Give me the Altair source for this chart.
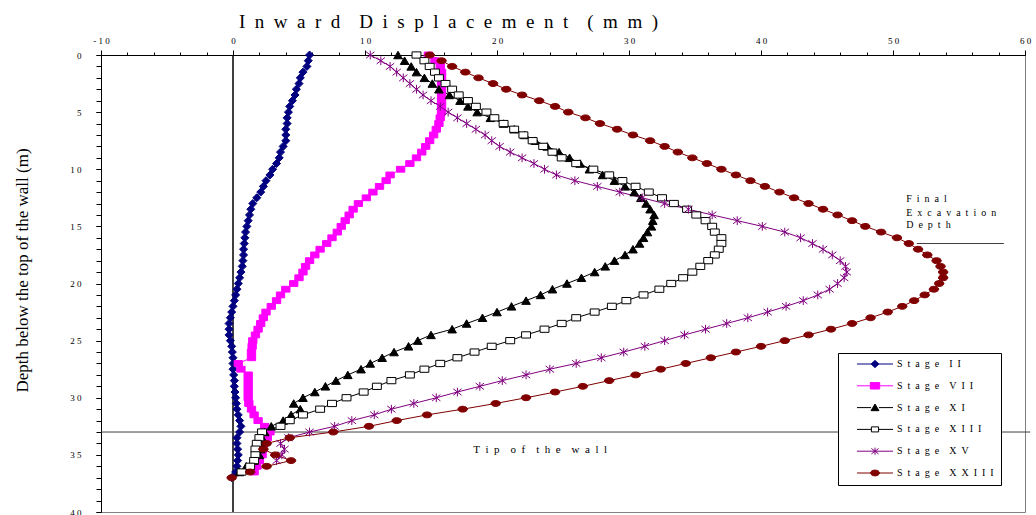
import altair as alt
import pandas as pd

EN = "\u2002"


def spaced(text, gap=EN):
    """Letter-spaced text: one gap between letters, two between words."""
    return (gap * 2).join(gap.join(word) for word in text.split(" "))


# Wall deflection profiles, sampled every 0.5 m from the top of the wall
DEPTH_STEP = 0.5

stage_ii = [5.8, 5.7, 5.6, 5.3, 5.1, 5.0, 4.8, 4.7, 4.5, 4.3,
            4.2, 4.1, 4.1, 4.0, 4.0, 4.0, 3.8, 3.6, 3.5, 3.3,
            3.0, 2.8, 2.5, 2.3, 2.1, 1.8, 1.5, 1.35, 1.25, 1.15,
            1.05, 0.95, 0.9, 0.85, 0.8, 0.8, 0.75, 0.7, 0.6, 0.5,
            0.4, 0.3, 0.2, 0.1, 0.0, -0.1, -0.2, -0.3, -0.3, -0.3,
            -0.2, -0.1, -0.05, 0.0, 0.0, 0.0, 0.05, 0.1, 0.1, 0.15,
            0.2, 0.25, 0.3, 0.4, 0.5, 0.6, 0.5, 0.3, 0.3, 0.35,
            0.4, 0.35, 0.3, 0.2, -0.1]

stage_vii = [14.8, 15.3, 15.7, 15.8, 15.8, 15.8, 15.8, 15.8, 15.8, 15.8,
             15.8, 15.7, 15.6, 15.4, 15.2, 14.9, 14.6, 14.3, 13.9, 13.4,
             12.7, 11.9, 11.6, 11.1, 10.6, 10.1, 9.5, 9.1, 8.8, 8.5,
             8.2, 7.9, 7.5, 7.1, 6.6, 6.2, 5.8, 5.5, 5.3, 5.0,
             4.6, 4.0, 3.6, 3.3, 2.9, 2.5, 2.3, 2.1, 1.9, 1.7,
             1.5, 1.45, 1.4, 1.4, 0.4, 0.6, 1.15, 1.15, 1.15, 1.15,
             1.15, 1.2, 1.4, 1.6, 1.9, 2.4, 2.8, 2.6, 2.3, 2.25,
             2.2, 2.0, 1.8, 1.6]

stage_xi = [12.5, 13.0, 13.5, 13.9, 14.5, 15.1, 15.6, 16.4, 17.2, 17.8,
            18.5, 19.5, 20.5, 21.3, 22.1, 22.9, 23.8, 24.7, 25.5, 26.3,
            27.0, 28.0, 28.9, 29.7, 30.4, 30.9, 31.3, 31.6, 31.9, 31.8,
            31.7, 31.4, 31.1, 30.8, 30.3, 29.7, 28.9, 28.2, 27.4, 26.4,
            25.3, 24.2, 23.3, 22.2, 21.1, 20.0, 18.9, 17.7, 16.6, 15.0,
            14.0, 13.3, 12.2, 11.3, 10.4, 9.7, 8.7, 7.8, 7.0, 6.2,
            5.3, 4.6, 5.1, 4.4, 3.8, 2.9, 2.4, 2.2, 2.2, 2.1,
            2.0, 1.6, 1.0, 0.5]

stage_xiii = [13.9, 14.5, 14.9, 15.3, 15.6, 16.1, 16.6, 17.1, 17.8, 18.4,
              19.2, 19.8, 20.5, 21.3, 22.0, 22.7, 23.5, 24.2, 24.9, 26.0,
              27.3, 28.5, 29.5, 30.5, 31.5, 32.5, 33.4, 34.4, 35.1, 35.8,
              36.3, 36.5, 37.0, 37.0, 36.8, 36.5, 36.0, 35.4, 34.8, 34.1,
              33.2, 32.3, 31.1, 29.8, 28.7, 27.4, 26.0, 24.9, 23.6, 22.2,
              21.0, 19.6, 18.3, 17.0, 15.7, 14.5, 13.4, 12.0, 10.9, 9.9,
              8.6, 7.5, 6.6, 5.3, 4.3, 3.6, 2.2, 2.0, 1.8, 1.7,
              1.7, 1.6, 1.3, 0.65]

stage_xv = [10.4, 11.2, 11.9, 12.4, 12.9, 13.4, 13.9, 14.4, 15.0, 15.7,
            16.3, 17.0, 17.7, 18.4, 19.1, 19.6, 20.2, 21.0, 21.9, 22.8,
            23.6, 24.5, 25.9, 27.6, 29.3, 31.0, 32.7, 34.5, 36.3, 38.2,
            40.1, 41.8, 43.0, 43.9, 44.7, 45.4, 46.0, 46.4, 46.5, 46.3,
            45.8, 45.2, 44.3, 43.2, 41.9, 40.5, 39.0, 37.4, 35.8, 34.2,
            32.7, 31.2, 29.6, 27.9, 26.0, 24.0, 22.2, 20.4, 18.7, 17.0,
            15.4, 13.7, 12.0, 10.7, 9.0, 7.7, 5.8, 4.2, 3.6, 3.9,
            3.7, 3.3]

stage_xxiii = [14.9, 15.8, 16.6, 17.6, 18.6, 19.7, 20.7, 21.9, 23.2, 24.4,
               25.4, 26.7, 27.8, 29.1, 30.3, 31.6, 32.7, 33.7, 34.8, 35.9,
               37.0, 38.1, 39.2, 40.3, 41.4, 42.5, 43.6, 44.7, 45.8, 46.9,
               47.9, 49.1, 50.3, 51.2, 51.9, 52.6, 53.3, 53.6, 53.8, 53.8,
               53.5, 53.1, 52.4, 51.6, 50.7, 49.6, 48.3, 46.9, 45.3, 43.6,
               41.8, 40.0, 38.1, 36.2, 34.3, 32.4, 30.5, 28.5, 26.5, 24.4,
               22.2, 19.9, 17.4, 14.7, 12.4, 10.3, 7.6, 4.3, 2.55, 2.3,
               3.2, 4.4, 2.55, 1.3, -0.1]

STAGES = ["Stage II", "Stage VII", "Stage XI", "Stage XIII", "Stage XV", "Stage XXIII"]
SERIES = [stage_ii, stage_vii, stage_xi, stage_xiii, stage_xv, stage_xxiii]
STAGE_LABELS = [spaced(s) for s in STAGES]

LINE_COLORS = ["#000080", "#ff00ff", "#000000", "#000000", "#800080", "#800000"]
MARKER_FILLS = ["#000080", "#ff00ff", "#000000", "#ffffff", "#800080", "#800000"]
MARKER_STROKES = ["#000080", "#ff00ff", "#000000", "#000000", "#800080", "#800000"]
MARKER_SIZES = [64, 90, 64, 49, 56, 72]
MARKER_SHAPES = [
    "diamond",
    "M-1,-0.7H1V0.7H-1Z",
    "triangle-up",
    "M-1,-0.7H1V0.7H-1Z",
    "M-0.9,-0.7L0.9,0.7M-0.9,0.7L0.9,-0.7M0,-0.95V0.95",
    "M-1,0A1,0.62 0 1,0 1,0A1,0.62 0 1,0 -1,0Z",
]
# Legend keys: a short line segment either side of the marker
KEY_SHAPES = [
    "M-1,0H-0.22M0.22,0H1M-0.22,0L0,-0.2L0.22,0L0,0.2Z",
    "M-1,0H-0.26M0.26,0H1M-0.26,-0.18H0.26V0.18H-0.26Z",
    "M-1,0H-0.22M0.22,0H1M0,-0.2L0.22,0.17L-0.22,0.17Z",
    "M-1,0H-0.2M0.2,0H1M-0.2,-0.14H0.2V0.14H-0.2Z",
    "M-1,0H1M-0.2,-0.15L0.2,0.15M-0.2,0.15L0.2,-0.15M0,-0.2V0.2",
    "M-1,0H-0.25M0.25,0H1M-0.25,0A0.25,0.16 0 1,0 0.25,0A0.25,0.16 0 1,0 -0.25,0Z",
]

# Reference lines and notes
WALL_FACE = 0.0
TIP_DEPTH = 33.0
TIP_SPAN = [-10.0, 60.4]
EXCAVATION_DEPTH = 16.5
EXCAVATION_SPAN = [51.8, 58.4]
EXCAVATION_NOTE = ["Final", "Excavation", "Depth"]
EXCAVATION_NOTE_POS = (51.0, [12.6, 13.8, 14.9])
TIP_NOTE = "Tip of the wall"
TIP_NOTE_POS = (18.2, 34.56)

rows = []
for label, values in zip(STAGE_LABELS, SERIES):
    for k, v in enumerate(values):
        rows.append({"stage": label, "depth": k * DEPTH_STEP, "disp": v})
profiles = pd.DataFrame(rows)

FONT = "Liberation Serif"
x_scale = alt.Scale(domain=[-10, 60], nice=False, zero=False)
y_scale = alt.Scale(domain=[0, 40], nice=False, zero=False, reverse=True)

SPACED_LABEL = "join(split(replace(datum.label, '\u2212', '-'), ''), ' ')"

x_major = alt.Axis(
    orient="top",
    values=list(range(-10, 61, 10)),
    labelExpr=SPACED_LABEL,
    tickSize=5,
    labelPadding=5,
    labelFlush=False,
    labelOverlap=False,
    labelFont=FONT,
    labelFontSize=9,
    title=spaced("Inward Displacement (mm)"),
    titleFont=FONT,
    titleFontSize=19,
    titleFontWeight="normal",
    titleX=347,
    titleY=-28,
    titleAlign="center",
    titleBaseline="alphabetic",
    grid=False,
)
x_minor = alt.Axis(
    orient="top", values=list(range(-10, 61, 2)), labels=False, domain=False,
    tickSize=3, title=None, grid=False,
)
y_major = alt.Axis(
    orient="left",
    values=list(range(0, 41, 5)),
    labelExpr=SPACED_LABEL,
    tickSize=5,
    labelPadding=15,
    labelFlush=False,
    labelOverlap=False,
    labelFont=FONT,
    labelFontSize=9,
    title="Depth below the top of the wall (m)",
    titleFont=FONT,
    titleFontSize=17,
    titleFontWeight="normal",
    titleAngle=270,
    titleX=-79,
    titleY=215,
    titleAlign="center",
    titleBaseline="middle",
    grid=False,
)
y_minor = alt.Axis(
    orient="left", values=list(range(0, 41)), labels=False, domain=False,
    tickSize=5, title=None, grid=False,
)

X_PLAIN = alt.X("disp:Q", scale=x_scale, axis=None)
Y_PLAIN = alt.Y("depth:Q", scale=y_scale, axis=None)

lines = alt.Chart(profiles).mark_line(strokeWidth=1).encode(
    x=alt.X("disp:Q", scale=x_scale, axis=x_major),
    y=alt.Y("depth:Q", scale=y_scale, axis=y_major),
    stroke=alt.Stroke("stage:N", scale=alt.Scale(domain=STAGE_LABELS, range=LINE_COLORS), legend=None),
    order=alt.Order("depth:Q"),
)

points = alt.Chart(profiles).mark_point(filled=True, opacity=1, strokeWidth=1).encode(
    x=alt.X("disp:Q", scale=x_scale, axis=x_minor),
    y=alt.Y("depth:Q", scale=y_scale, axis=y_minor),
    shape=alt.Shape("stage:N", scale=alt.Scale(domain=STAGE_LABELS, range=MARKER_SHAPES), legend=None),
    fill=alt.Fill("stage:N", scale=alt.Scale(domain=STAGE_LABELS, range=MARKER_FILLS), legend=None),
    stroke=alt.Stroke("stage:N", scale=alt.Scale(domain=STAGE_LABELS, range=MARKER_STROKES), legend=None),
    size=alt.Size("stage:N", scale=alt.Scale(domain=STAGE_LABELS, range=MARKER_SIZES), legend=None),
)

key_legend = alt.Legend(
    orient="none", legendX=737, legendY=298, title=None,
    symbolSize=1296, symbolStrokeWidth=1, symbolOpacity=1,
    symbolOffset=12, labelOffset=3.5, clipHeight=9,
    labelExpr="datum.label + '\u2002\u2002\u2002'",
    labelFont=FONT, labelFontSize=10, labelColor="black",
    padding=6.5, rowPadding=10.8,
    strokeColor="black", fillColor="white",
)
# Legend only: no marks are drawn by this layer
keys = alt.Chart(profiles).transform_filter("false").mark_point(filled=True, size=1296).encode(
    x=X_PLAIN,
    y=Y_PLAIN,
    shape=alt.Shape("stage:N", scale=alt.Scale(domain=STAGE_LABELS, range=KEY_SHAPES), legend=key_legend),
    fill=alt.Fill("stage:N", scale=alt.Scale(domain=STAGE_LABELS, range=MARKER_FILLS), legend=key_legend),
    stroke=alt.Stroke("stage:N", scale=alt.Scale(domain=STAGE_LABELS, range=MARKER_STROKES), legend=key_legend),
)

wall = alt.Chart(pd.DataFrame({"disp": [WALL_FACE], "depth": [0.0], "depth2": [40.0]})).mark_rule(
    color="black", strokeWidth=1.5
).encode(x=X_PLAIN, y=Y_PLAIN, y2="depth2:Q")

tip_rule = alt.Chart(pd.DataFrame({"disp": [TIP_SPAN[0]], "disp2": [TIP_SPAN[1]], "depth": [TIP_DEPTH]})).mark_rule(
    color="#404040", strokeWidth=1
).encode(x=X_PLAIN, x2="disp2:Q", y=Y_PLAIN)

exc_rule = alt.Chart(pd.DataFrame({"disp": [EXCAVATION_SPAN[0]], "disp2": [EXCAVATION_SPAN[1]],
                                   "depth": [EXCAVATION_DEPTH]})).mark_rule(
    color="#404040", strokeWidth=1
).encode(x=X_PLAIN, x2="disp2:Q", y=Y_PLAIN)

exc_text = alt.Chart(pd.DataFrame({
    "disp": [EXCAVATION_NOTE_POS[0]] * 3,
    "depth": EXCAVATION_NOTE_POS[1],
    "note": [spaced(w) for w in EXCAVATION_NOTE],
})).mark_text(align="left", baseline="middle", font=FONT, fontSize=10, color="black").encode(
    x=X_PLAIN, y=Y_PLAIN, text="note:N"
)

tip_text = alt.Chart(pd.DataFrame({
    "disp": [TIP_NOTE_POS[0]], "depth": [TIP_NOTE_POS[1]], "note": [spaced(TIP_NOTE)],
})).mark_text(align="left", baseline="middle", font=FONT, fontSize=11, color="black").encode(
    x=X_PLAIN, y=Y_PLAIN, text="note:N"
)

chart = (
    alt.layer(wall, tip_rule, exc_rule, exc_text, tip_text, lines, points, keys)
    .resolve_scale(stroke="independent", fill="independent", shape="independent")
    .resolve_axis(x="independent", y="independent")
    .properties(
        width=924, height=457,
        autosize=alt.AutoSizeParams(type="none"),
        padding={"left": 101, "top": 55, "right": 11, "bottom": 3},
        background="white",
    )
    .configure_view(stroke="#808080", strokeWidth=1)
    .configure_axis(domainColor="black", tickColor="black", labelColor="black", titleColor="black",
                    domainWidth=1)
)

chart.save("out.html", embed_options={"renderer": "svg", "actions": False})
